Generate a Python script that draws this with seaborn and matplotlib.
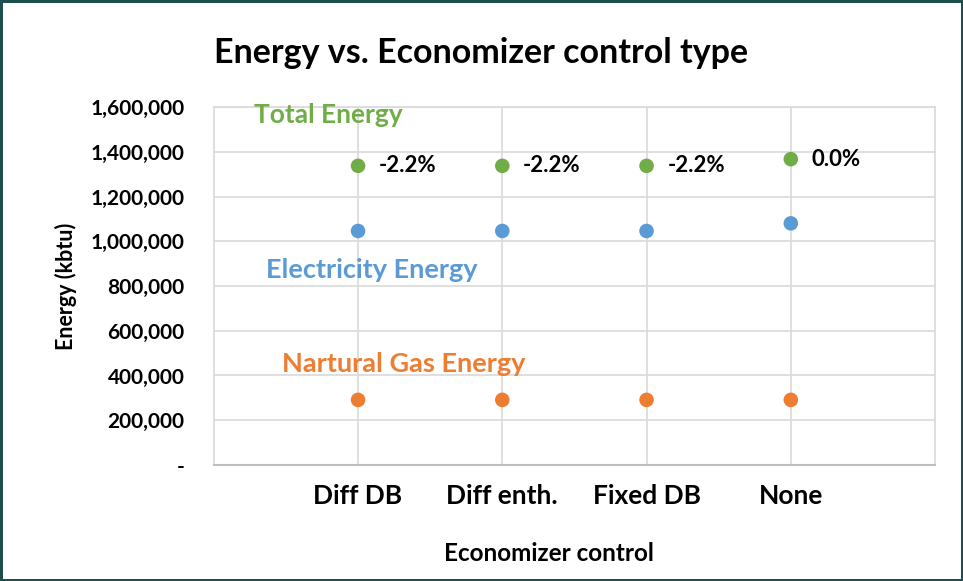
import pandas as pd
import matplotlib.pyplot as plt
import matplotlib.ticker as mticker
import seaborn as sns

# Data
controls = ['Diff DB', 'Diff enth.', 'Fixed DB', 'None']
total_energy = [1337000, 1337000, 1337000, 1367000]
electricity_energy = [1046000, 1046000, 1046000, 1080000]
gas_energy = [291000, 291000, 291000, 291000]
pct_change = ['-2.2%', '-2.2%', '-2.2%', '0.0%']

series_names = ['Total Energy', 'Electricity Energy', 'Nartural Gas Energy']
series_colors = ['#70AD47', '#5B9BD5', '#ED7D31']

df = pd.DataFrame({
    'control': controls * 3,
    'energy': total_energy + electricity_energy + gas_energy,
    'series': [s for s in series_names for _ in controls],
})

sns.set_style('white')
plt.rcParams['font.family'] = ['Lato', 'DejaVu Sans']

fig = plt.figure(figsize=(9.63, 5.81), dpi=100)
fig.patch.set_edgecolor('#1F4E4E')
fig.patch.set_linewidth(2.5)
ax = fig.add_axes([0.222, 0.1997, 0.749, 0.6161])

sns.scatterplot(data=df, x='control', y='energy', hue='series', palette=series_colors,
                s=110, edgecolor='none', legend=False, ax=ax, zorder=3)

ax.set_xlim(-1, 4)
ax.set_ylim(0, 1600000)
ax.yaxis.set_major_locator(mticker.MultipleLocator(200000))
ax.yaxis.set_major_formatter(mticker.FuncFormatter(lambda v, p: '-' if v == 0 else f'{v:,.0f}'))
ax.grid(True, color='#D9D9D9', linewidth=1.2)
ax.set_axisbelow(True)
for side in ['left', 'right', 'top']:
    ax.spines[side].set_color('#D9D9D9')
    ax.spines[side].set_linewidth(1.2)
ax.spines['bottom'].set_color('#BFBFBF')
ax.spines['bottom'].set_linewidth(1.5)

ax.tick_params(axis='y', length=0, pad=21, labelsize=15, labelcolor='black')
ax.tick_params(axis='x', length=0, pad=14, labelsize=19, labelcolor='black')
for lbl in ax.get_xticklabels() + ax.get_yticklabels():
    lbl.set_fontweight('bold')

ax.set_xlabel('Economizer control', fontsize=17.5, fontweight='bold', labelpad=20, color='black')
ax.xaxis.set_label_coords(0.465, -0.215)
ax.set_ylabel('Energy (kbtu)', fontsize=15.5, fontweight='bold', labelpad=10, color='black')
fig.suptitle('Energy vs. Economizer control type', fontsize=24.5, fontweight='bold', y=0.937, color='black')

# percent change labels next to the total energy points
for i, txt in enumerate(pct_change):
    ax.annotate(txt, (i, total_energy[i]), xytext=(15, 0), textcoords='offset points',
                va='center', ha='left', fontsize=16, fontweight='bold', color='black')

# series name labels
ax.text(-0.72, 1565000, 'Total Energy', color=series_colors[0], fontsize=19, fontweight='bold', va='center')
ax.text(-0.64, 870000, 'Electricity Energy', color=series_colors[1], fontsize=19.5, fontweight='bold', va='center')
ax.text(-0.53, 450000, 'Nartural Gas Energy', color=series_colors[2], fontsize=19.5, fontweight='bold', va='center')

plt.savefig('out.png', dpi=100)
